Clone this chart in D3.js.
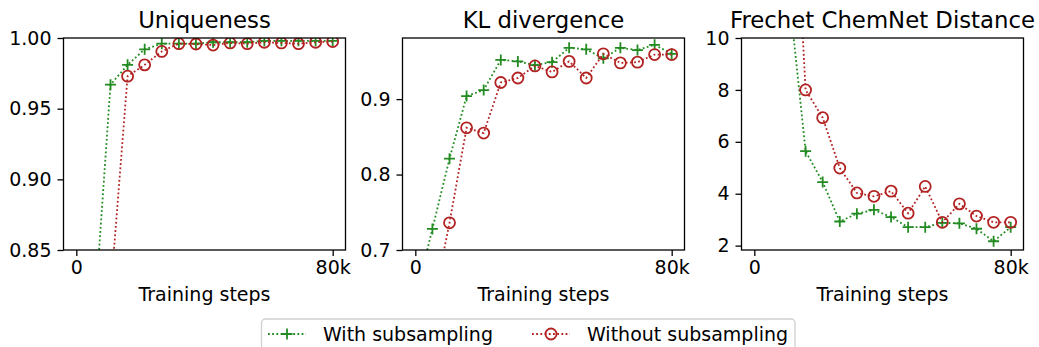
<!DOCTYPE html>
<html>
<head>
<meta charset="utf-8">
<script src="https://cdn.jsdelivr.net/npm/d3@7"></script>
<style>
  body { margin: 0; background: #fff; }
  svg { display: block; font-family: "DejaVu Sans", sans-serif; }
</style>
</head>
<body>
<svg id="chart" width="1039" height="347"></svg>
<script>
"use strict";

// training steps, in thousands
var steps = [0, 5.33, 10.67, 16, 21.33, 26.67, 32, 37.33, 42.67, 48, 53.33, 58.67, 64, 69.33, 74.67, 80];

var uniqWith = [0.50, 0.792, 0.967, 0.981, 0.992, 0.996, 0.996, 0.996, 0.997, 0.997, 0.997, 0.998, 0.998, 0.998, 0.998, 0.998],
    uniqWithout = [0.40, 0.60, 0.819, 0.973, 0.981, 0.9905, 0.996, 0.9957, 0.995, 0.9965, 0.996, 0.997, 0.9965, 0.996, 0.997, 0.9975];

var klWith = [0.635, 0.728, 0.821, 0.904, 0.912, 0.952, 0.950, 0.945, 0.949, 0.968, 0.966, 0.954, 0.968, 0.965, 0.972, 0.960],
    klWithout = [0.50, 0.6235, 0.736, 0.862, 0.855, 0.922, 0.928, 0.944, 0.936, 0.950, 0.928, 0.960, 0.948, 0.949, 0.959, 0.959];

var fcdWith = [40, 20, 11.9, 5.64, 4.45, 2.93, 3.23, 3.38, 3.10, 2.71, 2.71, 2.88, 2.86, 2.65, 2.17, 2.71],
    fcdWithout = [60, 40, 20.5, 8.0, 6.93, 4.99, 4.03, 3.90, 4.10, 3.25, 4.28, 2.90, 3.61, 3.14, 2.90, 2.90];

var titles = ["Uniqueness", "KL divergence", "Frechet ChemNet Distance"],
    yTicks = [[0.85, 0.90, 0.95, 1.00], [0.7, 0.8, 0.9], [2, 4, 6, 8, 10]],
    xTicks = [0, 80],
    xTickLabels = ["0", "80k"],
    seriesNames = ["With subsampling", "Without subsampling"];

var panels = [
    { title: titles[0], ys: [uniqWith, uniqWithout], yDomain: [0.85, 1.0], ticks: yTicks[0], fmt: d3.format(".2f") },
    { title: titles[1], ys: [klWith, klWithout], yDomain: [0.7, 0.981], ticks: yTicks[1], fmt: d3.format(".1f") },
    { title: titles[2], ys: [fcdWith, fcdWithout], yDomain: [1.832, 10], ticks: yTicks[2], fmt: d3.format("d") }
];

var green = "#228b22",
    red = "#b22222",
    colours = [green, red],
    fontSize = 19,
    titleSize = 22.8,
    lefts = [63.5, 402.5, 741.5],
    plotW = 282,
    plotTop = 38,
    plotBottom = 250,
    tickLen = 6,
    lineW = 1.8,
    markSize = 5.5,
    dash = "1.8,2.4";

var svg = d3.select("#chart");

var drawMarker = function(sel, k, size) {
    if (k === 0) {
        sel.append("path")
            .attr("d", "M" + (-size) + ",0H" + size + "M0," + (-size) + "V" + size)
            .attr("stroke", green)
            .attr("stroke-width", lineW)
            .attr("fill", "none");
    } else {
        sel.append("circle")
            .attr("r", size)
            .attr("stroke", red)
            .attr("stroke-width", lineW)
            .attr("fill", "none");
    }
};

panels.forEach(function(p, pi) {
    var left = lefts[pi],
        right = left + plotW,
        x = d3.scaleLinear().domain([-4, 84]).range([left, right]),
        y = d3.scaleLinear().domain(p.yDomain).range([plotBottom, plotTop]),
        g = svg.append("g"),
        clipId = "clip" + pi;

    svg.append("clipPath").attr("id", clipId)
        .append("rect")
        .attr("x", left).attr("y", plotTop)
        .attr("width", plotW).attr("height", plotBottom - plotTop);

    var plot = g.append("g").attr("clip-path", "url(#" + clipId + ")");

    var line = d3.line()
        .x(function(d, i) { return x(steps[i]); })
        .y(function(d) { return y(d); });

    p.ys.forEach(function(vals, k) {
        plot.append("path")
            .datum(vals)
            .attr("d", line)
            .attr("fill", "none")
            .attr("stroke", colours[k])
            .attr("stroke-width", lineW)
            .attr("stroke-dasharray", dash);

        plot.selectAll("g.m" + k)
            .data(vals)
            .enter().append("g")
            .attr("class", "m" + k)
            .attr("transform", function(d, i) {
                return "translate(" + x(steps[i]) + "," + y(d) + ")";
            })
            .each(function() { drawMarker(d3.select(this), k, markSize); });
    });

    // frame
    g.append("rect")
        .attr("x", left).attr("y", plotTop)
        .attr("width", plotW).attr("height", plotBottom - plotTop)
        .attr("fill", "none")
        .attr("stroke", "#000")
        .attr("stroke-width", 1.3);

    // x axis
    var xAxis = d3.axisBottom(x)
        .tickValues(xTicks)
        .tickSize(tickLen)
        .tickPadding(5)
        .tickFormat(function(d, i) { return xTickLabels[i]; });

    var xa = g.append("g")
        .attr("transform", "translate(0," + plotBottom + ")")
        .call(xAxis);
    xa.select(".domain").remove();

    // y axis
    var yAxis = d3.axisLeft(y)
        .tickValues(p.ticks)
        .tickSize(tickLen)
        .tickPadding(6)
        .tickFormat(p.fmt);

    var ya = g.append("g")
        .attr("transform", "translate(" + left + ",0)")
        .call(yAxis);
    ya.select(".domain").remove();

    g.selectAll(".tick line").attr("stroke", "#000").attr("stroke-width", 1.3);
    g.selectAll(".tick text")
        .attr("fill", "#000")
        .style("font-family", "DejaVu Sans")
        .style("font-size", fontSize + "px");

    g.append("text")
        .attr("x", (left + right) / 2)
        .attr("y", 27.5)
        .attr("text-anchor", "middle")
        .style("font-size", titleSize + "px")
        .text(p.title);

    g.append("text")
        .attr("x", (left + right) / 2)
        .attr("y", 301)
        .attr("text-anchor", "middle")
        .style("font-size", fontSize + "px")
        .text("Training steps");
});

// legend
var legend = svg.append("g");

legend.append("rect")
    .attr("x", 261.5).attr("y", 319)
    .attr("width", 533.5).attr("height", 40)
    .attr("rx", 4)
    .attr("fill", "#fff")
    .attr("stroke", "#d0d0d0")
    .attr("stroke-width", 1.3);

var entryX = [268, 532];

seriesNames.forEach(function(name, k) {
    var e = legend.append("g").attr("transform", "translate(" + entryX[k] + ",334)");

    e.append("line")
        .attr("x1", 0).attr("x2", 38)
        .attr("stroke", colours[k])
        .attr("stroke-width", lineW)
        .attr("stroke-dasharray", dash);

    var m = e.append("g").attr("transform", "translate(19,0)");
    drawMarker(m, k, markSize);

    e.append("text")
        .attr("x", 55)
        .attr("y", 6.8)
        .style("font-size", fontSize + "px")
        .text(name);
});
</script>
</body>
</html>
